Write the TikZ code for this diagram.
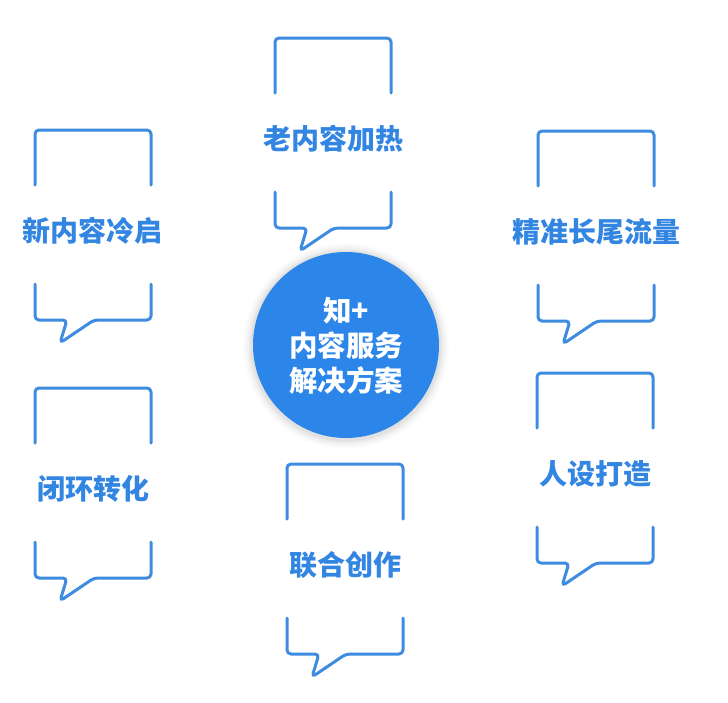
\documentclass[tikz,border=0pt]{standalone}
\usepackage{fontspec}
\newfontfamily\cjk{Noto Sans CJK SC}
\definecolor{circblue}{RGB}{44,133,232}
\definecolor{linblue}{RGB}{62,140,224}
\definecolor{txtblue}{RGB}{50,134,226}
\tikzset{
  bubbleline/.style={draw=linblue, line width=3pt, rounded corners=4pt, line cap=round, line join=round},
  bubblelabel/.style={font=\cjk\bfseries\fontsize{28}{32}\selectfont, text=txtblue, inner sep=0pt},
  centrelabel/.style={font=\cjk\bfseries\fontsize{28.5}{35}\selectfont, text=white, align=center, inner sep=0pt},
}
\newcommand\speechbubble[4]{%
  \draw[bubbleline] (#2,#3+55) -- (#2,#3) -- (#2+116,#3) -- (#2+116,#3+55);
  \draw[bubbleline] (#2,#3+154) -- (#2,#3+190) -- (#2+32,#3+190) -- (#2+25,#3+213) -- (#2+59,#3+190) -- (#2+116,#3+190) -- (#2+116,#3+154);
  \node[bubblelabel] (#1) at (#2+58,#3+101) {#4};
}
\begin{document}
\begin{tikzpicture}[x=1pt,y=-1pt]
  \useasboundingbox (0,0) rectangle (728,702);
  \fill[white] (0,0) rectangle (728,702);
  % glow around the circle
  \foreach \r/\o in {103/0.025,101/0.035,99/0.045,97/0.06,95.5/0.08}{
    \fill[black!50, opacity=\o] (346,346) circle (\r);
  }
  \fill[circblue] (346,345) circle (93);
  \node[centrelabel] (centre) at (346,346) {知+\\内容服务\\解决方案};
  \speechbubble{old}{275}{38}{老内容加热}
  \speechbubble{newc}{35}{130}{新内容冷启}
  \speechbubble{tail}{538}{131}{精准长尾流量}
  \speechbubble{loop}{35}{388}{闭环转化}
  \speechbubble{persona}{537}{373}{人设打造}
  \speechbubble{joint}{287}{464}{联合创作}
\end{tikzpicture}
\end{document}
